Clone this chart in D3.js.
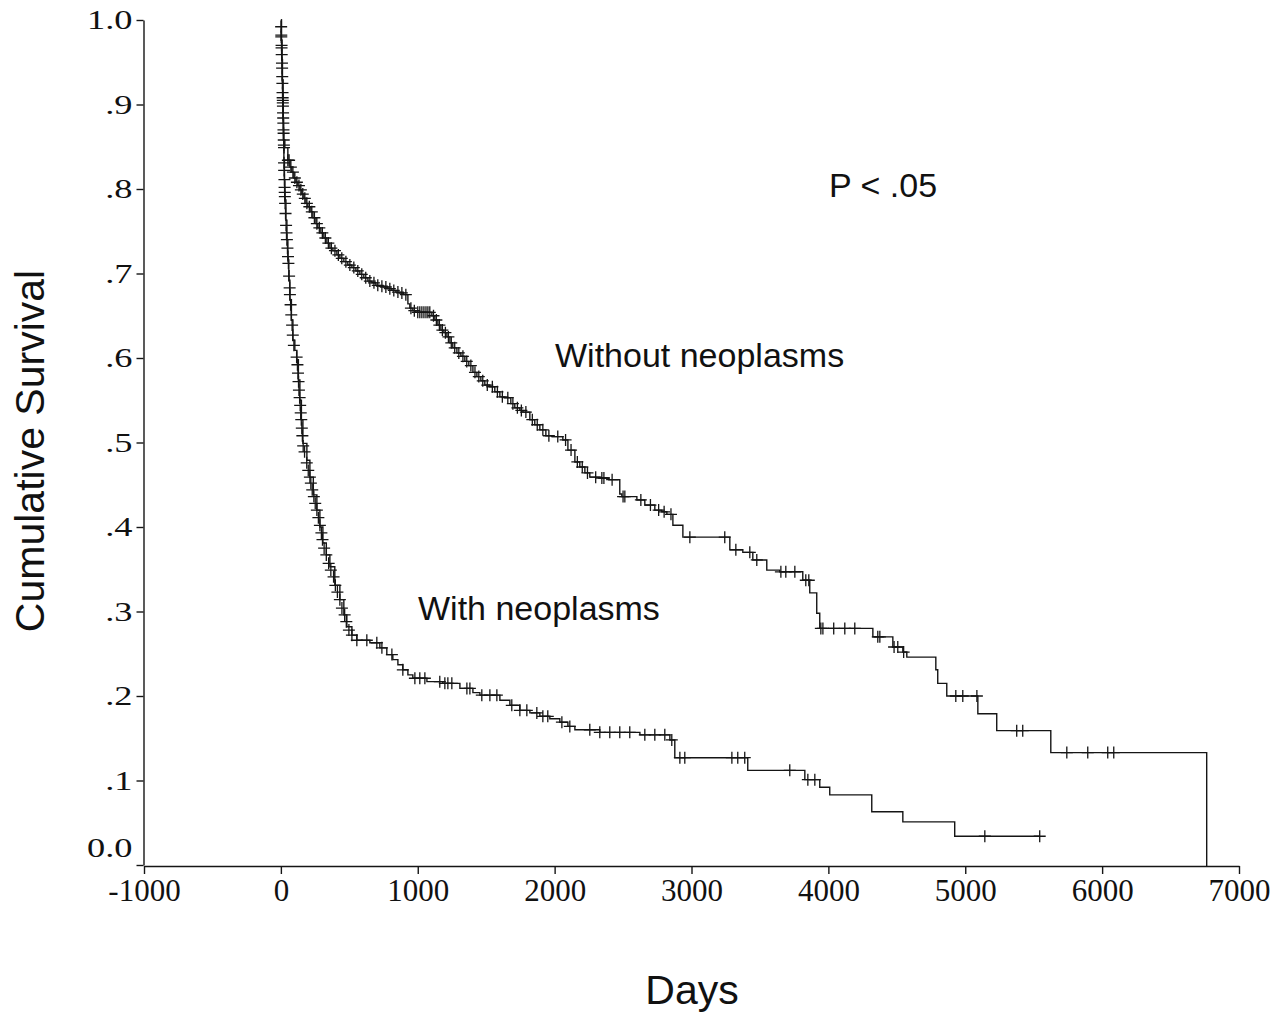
<!DOCTYPE html>
<html>
<head>
<meta charset="utf-8">
<script src="https://cdn.jsdelivr.net/npm/d3@7"></script>
<style>
  body { margin: 0; background: #fff; }
  svg { display: block; }
  .tick text { font-family: "Liberation Serif", "Times New Roman", serif; fill: #111; }
  .lbl { font-family: "Liberation Sans", Arial, sans-serif; fill: #111; }
</style>
</head>
<body>
<svg id="km" width="1272" height="1016"></svg>
<script>
// Kaplan-Meier steps: day at which survival drops to the given value
var withoutDays = [0,4,7,11,15,17,19,29,51,66,80,95,110,124,139,153,168,183,197,219,234,256,270,292,314,336,358,380,409,431,460,489,519,548,577,606,636,665,694,723,752,782,811,840,869,898,928,942,964,986,1103,1125,1147,1169,1191,1213,1235,1256,1286,1315,1344,1373,1403,1432,1461,1490,1527,1563,1600,1636,1680,1709,1746,1768,1819,1855,1892,1936,1980,2060,2097,2148,2184,2221,2257,2330,2396,2476,2491,2601,2659,2732,2783,2820,2864,2937,3280,3375,3448,3550,3645,3813,3864,3915,3937,4325,4471,4544,4573,4785,4799,4865,5092,5230,5625,6764];
var withoutSurv = [1.000,.976,.953,.929,.905,.882,.858,.849,.834,.826,.820,.813,.808,.804,.799,.794,.789,.783,.779,.773,.766,.759,.754,.748,.742,.736,.730,.727,.722,.718,.714,.710,.707,.703,.699,.695,.691,.689,.686,.685,.684,.682,.680,.678,.677,.675,.664,.659,.656,.654,.650,.645,.639,.633,.630,.625,.618,.612,.606,.602,.596,.591,.583,.578,.573,.568,.566,.560,.554,.553,.546,.541,.538,.536,.527,.521,.515,.508,.507,.503,.491,.477,.471,.464,.459,.458,.456,.439,.436,.432,.426,.420,.418,.415,.402,.388,.373,.370,.361,.349,.347,.337,.322,.298,.280,.270,.258,.252,.246,.231,.215,.200,.179,.159,.133,0];

var withDays = [0,4,7,11,15,17,19,22,26,29,37,44,51,58,66,77,88,102,117,128,139,150,161,190,212,237,263,285,307,332,358,394,431,460,482,519,555,650,723,774,818,855,891,928,964,1067,1183,1308,1403,1454,1600,1673,1746,1819,1892,1965,2038,2097,2148,2330,2623,2842,2878,3411,3828,3937,4010,4317,4544,4923,5544];
var withSurv = [1.000,.976,.953,.929,.905,.882,.858,.834,.811,.787,.763,.740,.716,.692,.669,.645,.621,.609,.598,.574,.550,.527,.499,.479,.459,.438,.420,.400,.381,.367,.353,.331,.314,.296,.282,.272,.266,.263,.257,.249,.243,.237,.231,.225,.221,.217,.215,.209,.204,.201,.195,.189,.183,.180,.176,.173,.169,.164,.160,.157,.154,.148,.127,.112,.101,.092,.083,.063,.051,.034,.034];

// censored cases (days), placed on their curve
var withoutCensor = [51,60,73,88,102,117,132,146,160,175,190,208,226,245,263,281,303,325,347,369,395,420,445,475,504,533,562,591,620,650,680,708,738,767,796,825,855,884,913,950,975,1000,1015,1030,1045,1060,1074,1088,1115,1136,1158,1180,1202,1224,1245,1270,1300,1330,1358,1388,1418,1446,1475,1508,1545,1582,1618,1658,1695,1728,1757,1790,1837,1873,1914,1958,2023,2080,2120,2166,2202,2240,2300,2345,2360,2420,2500,2513,2630,2700,2760,2800,2850,2988,3243,3324,3426,3477,3653,3689,3755,3835,3857,3945,3960,4039,4120,4193,4361,4376,4480,4507,4550,4931,4982,5085,5376,5420,5742,5895,6041,6085];
var withCensor = [555,628,701,738,811,891,979,1015,1052,1161,1198,1220,1249,1359,1381,1468,1527,1578,1687,1746,1797,1870,1914,1950,2053,2111,2257,2330,2403,2476,2549,2659,2732,2805,2856,2915,2951,3295,3338,3389,3718,3850,3901,5143,5544];

// censored cases on the steep early part (day, survival read directly)
var steepDays = [2,3,3,5,5,6,8,9,10,11,12,13,14,14,15,16,17,18,19,20,21,22,23,23,24,26,27,28,29,31,34,38,41,44,48,52,55,60,64,66,71,76,82,87,95,115,121,125,129,132,137,141,145,149,153,157,163,173,189,200,212,219,229,241,251,263,274,285,296,304,316,332,349,365,385,398,413,431,446,466,478,497,519];
var steepSurv = [.992,.982,.980,.970,.967,.959,.949,.943,.933,.925,.914,.908,.905,.902,.898,.890,.884,.878,.870,.866,.858,.852,.849,.831,.822,.811,.802,.796,.791,.783,.771,.757,.748,.740,.730,.720,.712,.697,.683,.675,.663,.651,.639,.627,.615,.601,.592,.582,.572,.562,.553,.544,.535,.527,.517,.508,.496,.489,.476,.467,.459,.452,.444,.436,.428,.420,.411,.402,.393,.385,.375,.367,.357,.349,.341,.331,.323,.314,.304,.296,.288,.278,.272];

var xTicks = [-1000,0,1000,2000,3000,4000,5000,6000,7000];
var yTicks = [0,.1,.2,.3,.4,.5,.6,.7,.8,.9,1];
var yTickLabels = ["0.0",".1",".2",".3",".4",".5",".6",".7",".8",".9","1.0"];

var svg = d3.select("#km");
var x = d3.scaleLinear().domain([-1000, 7000]).range([144, 1239]);
var y = d3.scaleLinear().domain([0, 1]).range([865, 20]);

var ink = "#151515";

// axes
var xAxis = svg.append("g")
    .attr("transform", "translate(0," + (y(0) + 1) + ")")
    .call(d3.axisBottom(x).tickValues(xTicks).tickFormat(function(d) { return String(d); })
      .tickSize(8).tickSizeOuter(0).tickPadding(5));
xAxis.selectAll("text").attr("font-size", 31);

var yAxis = svg.append("g")
    .attr("transform", "translate(" + (x(-1000) - 0.5) + ",0)")
    .call(d3.axisLeft(y).tickValues(yTicks).tickFormat(function(d, i) { return yTickLabels[i]; })
      .tickSize(7).tickSizeOuter(0).tickPadding(4));
yAxis.selectAll("text")
    .attr("font-size", 28)
    .each(function() {
      var t = d3.select(this);
      t.attr("x", +t.attr("x") / 1.3).attr("transform", "scale(1.3,1)");
    });
// the 0.0 label sits above the x axis line
yAxis.selectAll(".tick").filter(function(d) { return d === 0; }).select("text").attr("dy", "-0.32em");

svg.selectAll(".domain, .tick line").attr("stroke", ink).attr("stroke-width", 1.4);

// curves
var line = d3.line()
    .x(function(d) { return x(d[0]); })
    .y(function(d) { return y(d[1]); })
    .curve(d3.curveStepAfter);

function pairs(days, surv) {
  return days.map(function(d, i) { return [d, surv[i]]; });
}
var withoutData = pairs(withoutDays, withoutSurv);
var withData = pairs(withDays, withSurv);
// the last event of the group without neoplasms takes the curve to the axis
withoutData.push([6764, y.invert(y(0) + 1)]);

svg.append("path").datum(withoutData).attr("d", line)
    .attr("fill", "none").attr("stroke", ink).attr("stroke-width", 1.4);
svg.append("path").datum(withData).attr("d", line)
    .attr("fill", "none").attr("stroke", ink).attr("stroke-width", 1.4);

var bis = d3.bisector(function(d) { return d[0]; }).right;
function survAt(data, t) {
  return data[Math.max(0, bis(data, t) - 1)][1];
}

var marks = withoutCensor.map(function(t) { return [t, survAt(withoutData, t)]; })
  .concat(withCensor.map(function(t) { return [t, survAt(withData, t)]; }))
  .concat(pairs(steepDays, steepSurv));

svg.append("g").selectAll("path")
    .data(marks)
    .enter().append("path")
    .attr("d", function(d) {
      var cx = x(d[0]), cy = y(d[1]);
      return "M" + (cx - 6) + "," + cy + "H" + (cx + 6) + "M" + cx + "," + (cy - 6) + "V" + (cy + 6);
    })
    .attr("fill", "none").attr("stroke", ink).attr("stroke-width", 1.3);

// labels
svg.append("text").attr("class", "lbl")
    .attr("transform", "translate(44,451) rotate(-90)")
    .attr("text-anchor", "middle").attr("font-size", 41)
    .text("Cumulative Survival");
svg.append("text").attr("class", "lbl")
    .attr("x", 692).attr("y", 1004).attr("text-anchor", "middle").attr("font-size", 41)
    .text("Days");
svg.append("text").attr("class", "lbl")
    .attr("x", 829).attr("y", 197).attr("font-size", 34)
    .text("P < .05");
svg.append("text").attr("class", "lbl")
    .attr("x", 555).attr("y", 367).attr("font-size", 34)
    .text("Without neoplasms");
svg.append("text").attr("class", "lbl")
    .attr("x", 418).attr("y", 620).attr("font-size", 34)
    .text("With neoplasms");
</script>
</body>
</html>
